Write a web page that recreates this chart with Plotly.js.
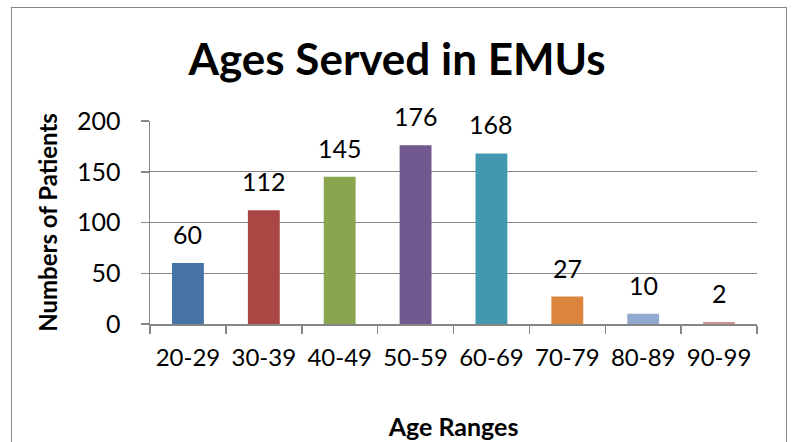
<!DOCTYPE html>
<html><head><meta charset="utf-8">
<script src="https://cdn.plot.ly/plotly-3.0.1.min.js"></script>
<style>
html,body{margin:0;padding:0;background:#fff;}
#wrap{position:relative;width:794px;height:442px;}
#chart{width:794px;height:442px;}
#frame{position:absolute;left:11px;top:7px;width:776px;height:450px;border:1.5px solid #868686;box-sizing:border-box;pointer-events:none;}
</style></head>
<body><div id="wrap"><div id="chart"></div><div id="frame"></div></div>
<script>
const categories = ["20-29","30-39","40-49","50-59","60-69","70-79","80-89","90-99"];
const patients = [60,112,145,176,168,27,10,2];
const barColors = ["#4572A7","#AA4643","#89A54E","#71588F","#4198AF","#DB843D","#93A9CF","#D19392"];
const yTicks = [0,50,100,150,200];

const font = "Lato, 'Open Sans', sans-serif";
const trace = {
  type:"bar", x:categories, y:patients,
  marker:{color:barColors, line:{width:0}},
  width:0.42, hoverinfo:"none"
};
const annotations = categories.map((c,i)=>({
  x:c, y:patients[i], xref:"x", yref:"y", text:String(patients[i]),
  showarrow:false, yanchor:"bottom", yshift:12,
  font:{family:font, size:25, color:"#000"}
}));
const layout = {
  width:794, height:442,
  margin:{l:150, r:37, t:121, b:118},
  paper_bgcolor:"#fff", plot_bgcolor:"#fff",
  showlegend:false,
  font:{family:font, color:"#000"},
  title:{text:"<b>Ages Served in EMUs</b>", font:{family:font, size:44, color:"#000"},
    x:0.5, xanchor:"center", y:1-60/442, yanchor:"middle", yref:"container"},
  xaxis:{type:"category", showgrid:false, showline:true, linecolor:"#868686", linewidth:1.5,
    ticks:"outside", tickson:"boundaries", ticklen:8, tickcolor:"#868686", tickwidth:1.5,
    tickangle:0,
    tickfont:{family:font, size:24, color:"#000"}, ticklabelstandoff:12,
    title:{text:"<b>Age Ranges</b>", font:{family:font, size:25, color:"#000"}, standoff:48},
    fixedrange:true},
  yaxis:{range:[0,200], tickvals:yTicks, showgrid:true, gridcolor:"#868686", gridwidth:1.2,
    showline:true, linecolor:"#868686", linewidth:1.5, zeroline:false,
    ticks:"outside", ticklen:8, tickcolor:"#868686", tickwidth:1.5,
    tickfont:{family:font, size:25, color:"#000"}, ticklabelstandoff:15,
    title:{text:"<b>Numbers of Patients</b>", font:{family:font, size:24, color:"#000"}, standoff:12},
    fixedrange:true},
  annotations:annotations
};
Plotly.newPlot("chart",[trace],layout,{staticPlot:true, displayModeBar:false});
</script></body></html>
